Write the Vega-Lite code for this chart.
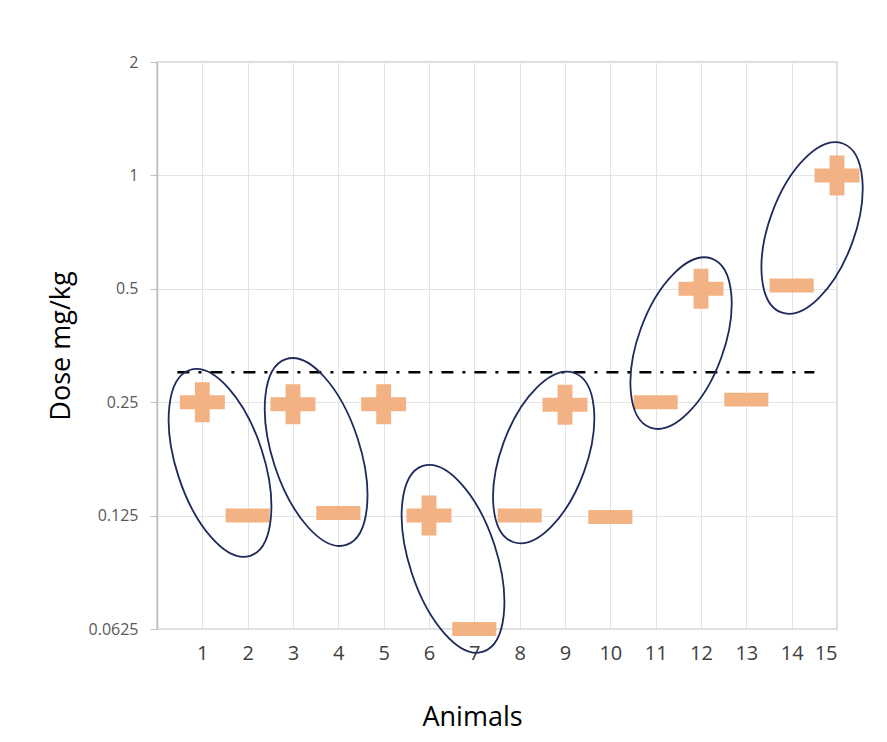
{
  "$schema": "https://vega.github.io/schema/vega-lite/v6.json",
  "width": 680,
  "height": 567,
  "autosize": {"type": "none"},
  "padding": {"left": 157, "top": 62, "right": 50, "bottom": 113},
  "background": "white",
  "config": {
    "view": {"stroke": "#d0d0d0", "strokeWidth": 1.5},
    "font": "Open Sans"
  },
  "datasets": {
    "markers": [
      {"animal": 1, "dose": 0.25, "result": "+"},
      {"animal": 2, "dose": 0.125, "result": "-"},
      {"animal": 3, "dose": 0.247, "result": "+"},
      {"animal": 4, "dose": 0.127, "result": "-"},
      {"animal": 5, "dose": 0.247, "result": "+"},
      {"animal": 6, "dose": 0.125, "result": "+"},
      {"animal": 7, "dose": 0.0625, "result": "-"},
      {"animal": 8, "dose": 0.125, "result": "-"},
      {"animal": 9, "dose": 0.246, "result": "+"},
      {"animal": 10, "dose": 0.124, "result": "-"},
      {"animal": 11, "dose": 0.25, "result": "-"},
      {"animal": 12, "dose": 0.5, "result": "+"},
      {"animal": 13, "dose": 0.254, "result": "-"},
      {"animal": 14, "dose": 0.51, "result": "-"},
      {"animal": 15, "dose": 1, "result": "+"}
    ],
    "pairs": [
      {"pair": "1-2", "animal": 1.39, "dose": 0.1725, "trend": "down"},
      {"pair": "3-4", "animal": 3.51, "dose": 0.1844, "trend": "down"},
      {"pair": "6-7", "animal": 6.53, "dose": 0.096, "trend": "down"},
      {"pair": "8-9", "animal": 8.53, "dose": 0.1783, "trend": "up"},
      {"pair": "11-12", "animal": 11.56, "dose": 0.3587, "trend": "up"},
      {"pair": "14-15", "animal": 14.45, "dose": 0.7251, "trend": "up"}
    ],
    "threshold": [
      {"animal": 0.45, "animal_end": 14.5, "dose": 0.3}
    ]
  },
  "layer": [
    {
      "data": {"name": "markers"},
      "mark": {"type": "point", "filled": true, "size": 2025, "color": "#F2B283", "opacity": 1},
      "encoding": {
        "x": {
          "field": "animal", "type": "quantitative", "title": "Animals",
          "scale": {"domain": [0, 15], "nice": false, "zero": false},
          "axis": {
            "values": [0, 1, 2, 3, 4, 5, 6, 7, 8, 9, 10, 11, 12, 13, 14, 15],
            "labelExpr": "datum.value == 0 ? '' : datum.label",
            "ticks": false, "tickSize": 0, "domain": false,
            "labelFont": "Open Sans", "labelFontSize": 20, "labelColor": "#404040", "labelPadding": 14,
            "gridColor": "#e3e3e3", "gridWidth": 1,
            "titleFont": "Open Sans", "titleFontSize": 27, "titleFontWeight": "normal", "titleColor": "#000000",
            "titlePadding": 41, "titleX": 315
          }
        },
        "y": {
          "field": "dose", "type": "quantitative", "title": "Dose mg/kg",
          "scale": {"type": "log", "base": 2, "domain": [0.0625, 2], "nice": false},
          "axis": {
            "values": [0.0625, 0.125, 0.25, 0.5, 1, 2],
            "format": ".4~f",
            "labelFont": "Open Sans", "labelFontSize": 16, "labelColor": "#595959", "labelPadding": 12,
            "tickSize": 7, "tickColor": "#bfbfbf", "domainColor": "#bfbfbf", "domainWidth": 1.5,
            "gridColor": "#e3e3e3", "gridWidth": 1,
            "titleFont": "Open Sans", "titleFontSize": 27, "titleFontWeight": "normal", "titleColor": "#000000",
            "titlePadding": 13
          }
        },
        "shape": {
          "field": "result", "type": "nominal", "legend": null,
          "scale": {
            "domain": ["+", "-"],
            "range": [
              "M -0.33 -0.89 L 0.33 -0.89 L 0.33 -0.31 L 1 -0.31 L 1 0.31 L 0.33 0.31 L 0.33 0.89 L -0.33 0.89 L -0.33 0.31 L -1 0.31 L -1 -0.31 L -0.33 -0.31 Z",
              "M -0.98 -0.31 L 0.98 -0.31 L 0.98 0.31 L -0.98 0.31 Z"
            ]
          }
        }
      }
    },
    {
      "data": {"name": "threshold"},
      "mark": {"type": "rule", "color": "#000000", "strokeWidth": 2.5, "strokeDash": [12, 9, 3, 9]},
      "encoding": {
        "x": {"field": "animal", "type": "quantitative", "title": "Animals"},
        "x2": {"field": "animal_end"},
        "y": {"field": "dose", "type": "quantitative", "title": "Dose mg/kg"}
      }
    },
    {
      "data": {"name": "pairs"},
      "transform": [{"filter": "datum.trend == 'down'"}],
      "mark": {
        "type": "point", "filled": false, "opacity": 1,
        "shape": "M 0 -1 C 0.2469 -1 0.447 -0.5523 0.447 0 C 0.447 0.5523 0.2469 1 0 1 C -0.2469 1 -0.447 0.5523 -0.447 0 C -0.447 -0.5523 -0.2469 -1 0 -1 Z",
        "size": 38181, "angle": -18, "color": "#1F2A5C", "strokeWidth": 1.8
      },
      "encoding": {
        "x": {"field": "animal", "type": "quantitative", "title": "Animals"},
        "y": {"field": "dose", "type": "quantitative", "title": "Dose mg/kg"}
      }
    },
    {
      "data": {"name": "pairs"},
      "transform": [{"filter": "datum.trend == 'up'"}],
      "mark": {
        "type": "point", "filled": false, "opacity": 1,
        "shape": "M 0 -1 C 0.2629 -1 0.476 -0.5523 0.476 0 C 0.476 0.5523 0.2629 1 0 1 C -0.2629 1 -0.476 0.5523 -0.476 0 C -0.476 -0.5523 -0.2629 -1 0 -1 Z",
        "size": 32328, "angle": 20, "color": "#1F2A5C", "strokeWidth": 1.8
      },
      "encoding": {
        "x": {"field": "animal", "type": "quantitative", "title": "Animals"},
        "y": {"field": "dose", "type": "quantitative", "title": "Dose mg/kg"}
      }
    }
  ]
}
